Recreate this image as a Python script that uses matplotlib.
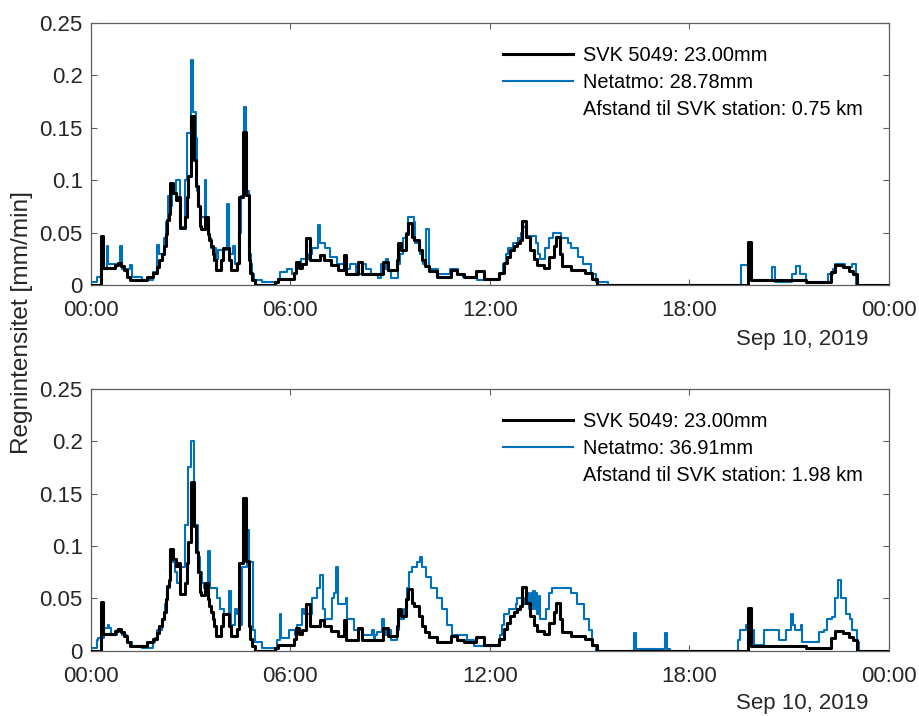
import matplotlib
matplotlib.use("Agg")
import matplotlib.pyplot as plt
import matplotlib.dates as mdates
from matplotlib.lines import Line2D
import pandas as pd

plt.rcParams['font.family'] = ['Liberation Sans', 'DejaVu Sans']

# rain intensity [mm/min] as step series: (hour of day, value from that hour on)
svk_steps = [
    (0.00, 0.0), (0.30, 0.047), (0.37, 0.016), (0.72, 0.019), (0.80, 0.021), (0.90, 0.018),
    (0.98, 0.014), (1.08, 0.008), (1.16, 0.005), (1.68, 0.008), (1.88, 0.011), (1.98, 0.017),
    (2.06, 0.024), (2.13, 0.030), (2.20, 0.037), (2.25, 0.049), (2.30, 0.062), (2.35, 0.068),
    (2.38, 0.097), (2.48, 0.088), (2.56, 0.081), (2.62, 0.084), (2.67, 0.054), (2.84, 0.065),
    (2.88, 0.084), (2.93, 0.104), (3.00, 0.161), (3.09, 0.119), (3.17, 0.094), (3.22, 0.075),
    (3.27, 0.056), (3.32, 0.053), (3.43, 0.065), (3.51, 0.049), (3.56, 0.043), (3.61, 0.037),
    (3.66, 0.030), (3.71, 0.024), (3.77, 0.014), (3.90, 0.024), (3.96, 0.035), (4.14, 0.024),
    (4.20, 0.014), (4.40, 0.021), (4.46, 0.084), (4.56, 0.146), (4.67, 0.086), (4.74, 0.024),
    (4.78, 0.011), (4.84, 0.005), (4.92, 0.0), (5.55, 0.003), (5.62, 0.006), (6.10, 0.011),
    (6.16, 0.022), (6.26, 0.016), (6.36, 0.020), (6.46, 0.045), (6.60, 0.024), (6.88, 0.029),
    (7.02, 0.024), (7.22, 0.019), (7.42, 0.014), (7.60, 0.029), (7.68, 0.010), (8.03, 0.022),
    (8.16, 0.010), (8.80, 0.022), (8.94, 0.014), (9.20, 0.024), (9.24, 0.040), (9.34, 0.033),
    (9.49, 0.049), (9.55, 0.059), (9.66, 0.046), (9.72, 0.043), (9.86, 0.033), (9.96, 0.024),
    (10.06, 0.018), (10.16, 0.013), (10.42, 0.008), (10.82, 0.014), (11.02, 0.010),
    (11.22, 0.008), (11.58, 0.013), (11.82, 0.006), (12.27, 0.011), (12.42, 0.021),
    (12.52, 0.027), (12.62, 0.033), (12.72, 0.037), (12.82, 0.040), (12.92, 0.043),
    (12.98, 0.061), (13.08, 0.046), (13.22, 0.033), (13.32, 0.025), (13.42, 0.019),
    (13.62, 0.016), (13.78, 0.027), (13.92, 0.037), (14.00, 0.046), (14.10, 0.030),
    (14.17, 0.018), (14.45, 0.014), (14.85, 0.011), (15.08, 0.006), (15.22, 0.0),
    (19.77, 0.041), (19.87, 0.005), (21.52, 0.003), (22.26, 0.012), (22.38, 0.019),
    (22.62, 0.017), (22.80, 0.013), (22.92, 0.010), (23.05, 0.0), (24.0, 0.0),
]

netatmo1_steps = [
    (0.00, 0.003), (0.17, 0.008), (0.30, 0.015), (0.47, 0.037), (0.52, 0.020), (0.87, 0.037),
    (0.92, 0.015), (1.18, 0.019), (1.22, 0.008), (1.52, 0.005), (1.88, 0.012), (2.00, 0.038),
    (2.06, 0.030), (2.20, 0.045), (2.27, 0.060), (2.31, 0.085), (2.38, 0.075), (2.45, 0.090),
    (2.55, 0.100), (2.67, 0.055), (2.82, 0.100), (2.90, 0.145), (3.00, 0.215), (3.08, 0.165),
    (3.16, 0.140), (3.20, 0.090), (3.23, 0.075), (3.29, 0.065), (3.42, 0.100), (3.47, 0.060),
    (3.54, 0.045), (3.62, 0.035), (3.76, 0.025), (3.82, 0.033), (4.09, 0.077), (4.14, 0.035),
    (4.17, 0.030), (4.28, 0.037), (4.33, 0.020), (4.46, 0.050), (4.50, 0.085), (4.60, 0.170),
    (4.67, 0.090), (4.76, 0.030), (4.80, 0.020), (4.85, 0.010), (4.90, 0.005), (5.15, 0.003),
    (5.62, 0.006), (5.70, 0.012), (5.90, 0.015), (6.05, 0.010), (6.18, 0.020), (6.33, 0.025),
    (6.55, 0.030), (6.65, 0.035), (6.82, 0.057), (6.88, 0.040), (7.05, 0.035), (7.20, 0.027),
    (7.40, 0.020), (7.60, 0.015), (7.78, 0.020), (7.98, 0.010), (8.14, 0.020), (8.26, 0.015),
    (8.42, 0.010), (8.64, 0.007), (8.73, 0.020), (8.79, 0.015), (8.89, 0.025), (8.94, 0.013),
    (9.04, 0.007), (9.24, 0.020), (9.29, 0.030), (9.39, 0.045), (9.49, 0.050), (9.54, 0.065),
    (9.71, 0.060), (9.74, 0.040), (9.89, 0.030), (9.99, 0.020), (10.09, 0.053), (10.17, 0.015),
    (10.45, 0.010), (10.79, 0.015), (11.05, 0.010), (11.19, 0.008), (11.60, 0.005),
    (12.28, 0.010), (12.40, 0.020), (12.49, 0.030), (12.55, 0.035), (12.70, 0.040),
    (12.85, 0.045), (12.93, 0.050), (13.00, 0.055), (13.12, 0.047), (13.40, 0.040),
    (13.45, 0.030), (13.50, 0.025), (13.65, 0.035), (13.79, 0.045), (13.90, 0.050),
    (14.15, 0.045), (14.35, 0.040), (14.45, 0.035), (14.65, 0.027), (14.80, 0.020),
    (15.05, 0.010), (15.20, 0.003), (15.55, 0.0), (19.57, 0.019), (19.87, 0.005),
    (20.50, 0.017), (20.57, 0.003), (21.08, 0.010), (21.22, 0.018), (21.32, 0.010),
    (21.52, 0.003), (22.18, 0.010), (22.33, 0.015), (22.38, 0.020), (22.70, 0.017),
    (22.90, 0.020), (23.02, 0.0), (24.0, 0.0),
]

netatmo2_steps = [
    (0.00, 0.003), (0.17, 0.010), (0.22, 0.012), (0.40, 0.022), (0.50, 0.025), (0.55, 0.022),
    (0.60, 0.015), (0.77, 0.020), (0.92, 0.015), (1.07, 0.008), (1.22, 0.005), (1.52, 0.003),
    (1.88, 0.008), (1.93, 0.012), (1.98, 0.020), (2.13, 0.030), (2.23, 0.045), (2.28, 0.060),
    (2.38, 0.090), (2.43, 0.085), (2.53, 0.075), (2.58, 0.065), (2.72, 0.080), (2.82, 0.120),
    (2.91, 0.175), (3.00, 0.200), (3.09, 0.120), (3.21, 0.090), (3.28, 0.075), (3.33, 0.065),
    (3.39, 0.060), (3.51, 0.095), (3.57, 0.060), (3.79, 0.050), (3.89, 0.040), (4.01, 0.035),
    (4.14, 0.057), (4.21, 0.025), (4.34, 0.040), (4.39, 0.035), (4.46, 0.025), (4.54, 0.080),
    (4.69, 0.115), (4.76, 0.085), (4.86, 0.020), (4.92, 0.008), (5.16, 0.003), (5.60, 0.010),
    (5.68, 0.035), (5.73, 0.012), (5.95, 0.020), (6.15, 0.015), (6.20, 0.025), (6.35, 0.040),
    (6.40, 0.035), (6.65, 0.050), (6.80, 0.060), (6.90, 0.072), (6.98, 0.040), (7.05, 0.030),
    (7.25, 0.050), (7.31, 0.055), (7.36, 0.080), (7.43, 0.045), (7.66, 0.050), (7.71, 0.030),
    (7.91, 0.020), (8.16, 0.015), (8.44, 0.020), (8.52, 0.010), (8.56, 0.015), (8.62, 0.018),
    (8.77, 0.030), (8.82, 0.015), (8.87, 0.020), (9.02, 0.010), (9.22, 0.020), (9.28, 0.030),
    (9.42, 0.040), (9.52, 0.060), (9.57, 0.075), (9.67, 0.080), (9.82, 0.085), (9.91, 0.090),
    (9.97, 0.080), (10.07, 0.070), (10.22, 0.060), (10.42, 0.050), (10.57, 0.040),
    (10.72, 0.025), (10.87, 0.015), (11.32, 0.010), (11.52, 0.005), (12.32, 0.015),
    (12.38, 0.025), (12.43, 0.035), (12.58, 0.040), (12.78, 0.045), (12.83, 0.050),
    (13.03, 0.045), (13.15, 0.055), (13.19, 0.040), (13.23, 0.055), (13.27, 0.040),
    (13.31, 0.057), (13.35, 0.040), (13.39, 0.055), (13.43, 0.035), (13.47, 0.052),
    (13.51, 0.030), (13.68, 0.040), (13.78, 0.055), (13.88, 0.060), (14.43, 0.055),
    (14.63, 0.045), (14.83, 0.030), (14.98, 0.020), (15.08, 0.005), (15.18, 0.0),
    (16.33, 0.017), (16.40, 0.002), (17.26, 0.017), (17.32, 0.002), (17.42, 0.0),
    (19.47, 0.010), (19.52, 0.020), (19.72, 0.025), (19.79, 0.020), (19.95, 0.006),
    (20.25, 0.020), (20.70, 0.010), (20.90, 0.020), (21.05, 0.035), (21.12, 0.025),
    (21.17, 0.020), (21.35, 0.025), (21.40, 0.008), (21.90, 0.018), (22.05, 0.020),
    (22.15, 0.030), (22.30, 0.032), (22.40, 0.050), (22.47, 0.068), (22.58, 0.050),
    (22.71, 0.035), (22.85, 0.030), (22.91, 0.020), (23.04, 0.008), (23.12, 0.0), (24.0, 0.0),
]

svk_label = "SVK 5049: 23.00mm"
netatmo_labels = ["Netatmo: 28.78mm", "Netatmo: 36.91mm"]
dist_labels = ["Afstand til SVK station: 0.75 km", "Afstand til SVK station: 1.98 km"]
y_ticks = [0, 0.05, 0.1, 0.15, 0.2, 0.25]
y_ticklabels = ["0", "0.05", "0.1", "0.15", "0.2", "0.25"]

day = pd.Timestamp("2019-09-10")
blue = "#0072BD"
grey = "#5f5f5f"
txt = "#262626"


def to_series(steps):
    hours, vals = zip(*steps)
    times = day + pd.to_timedelta(list(hours), unit="h")
    return times, list(vals)


fig = plt.figure(figsize=(9.19, 7.16), dpi=100)
ax_top = fig.add_axes([0.099, 0.602, 0.868, 0.366])
ax_bot = fig.add_axes([0.099, 0.091, 0.868, 0.366])

svk_t, svk_v = to_series(svk_steps)
for ax, net_steps, net_lab, dist_lab in zip([ax_top, ax_bot], [netatmo1_steps, netatmo2_steps],
                                            netatmo_labels, dist_labels):
    net_t, net_v = to_series(net_steps)
    ax.step(net_t, net_v, where="post", color=blue, lw=1.5, zorder=2)
    ax.step(svk_t, svk_v, where="post", color="black", lw=2.2, zorder=3)

    ax.set_xlim(day, day + pd.Timedelta(hours=24))
    ax.set_ylim(0, 0.25)
    ax.xaxis.set_major_locator(mdates.HourLocator(byhour=[0, 6, 12, 18]))
    ax.xaxis.set_major_formatter(mdates.DateFormatter("%H:%M"))
    ax.set_yticks(y_ticks)
    ax.set_yticklabels(y_ticklabels)
    ax.tick_params(direction="in", top=True, right=True, length=4.5, width=0.8,
                   color=grey, labelcolor=txt, labelsize=16, pad=6)
    ax.tick_params(axis="x", pad=11)
    for sp in ax.spines.values():
        sp.set_color(grey)
        sp.set_linewidth(0.9)

    handles = [Line2D([], [], color="black", lw=2.2),
               Line2D([], [], color=blue, lw=1.5),
               Line2D([], [], color="none")]
    ax.legend(handles, [svk_label, net_lab, dist_lab], loc="upper left",
              bbox_to_anchor=(0.517, 0.912), frameon=False, fontsize=14.4,
              handlelength=3.5, handletextpad=0.5, labelspacing=0.4,
              borderpad=0, borderaxespad=0)

fig.text(868 / 919, 1 - 339 / 716, "Sep 10, 2019", ha="right", va="center",
         fontsize=16, color=txt)
fig.text(868 / 919, 1 - 704 / 716, "Sep 10, 2019", ha="right", va="center",
         fontsize=16, color=txt)
fig.text(22 / 919, 1 - 322 / 716, "Regnintensitet [mm/min]", rotation=90,
         ha="center", va="center", fontsize=17.6, color=txt)

plt.savefig("out.png", dpi=100)
plt.close(fig)
